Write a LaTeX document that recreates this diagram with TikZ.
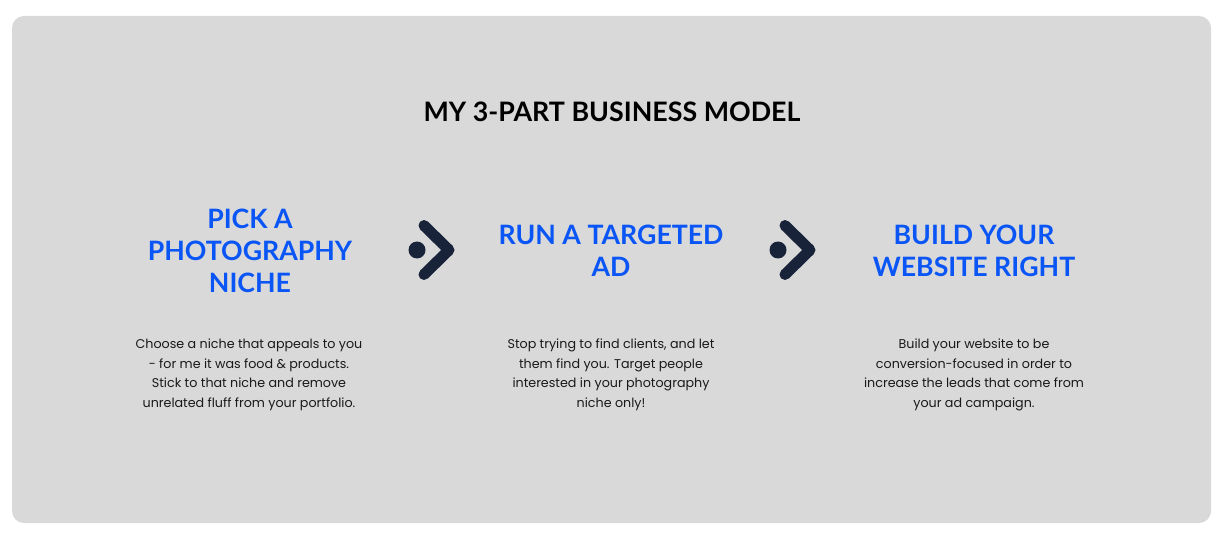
\documentclass[tikz,border=0pt]{standalone}
\usepackage{fontspec}
\setmainfont{Poppins}
\newfontfamily\headfont{Lato}
\usetikzlibrary{positioning}
\definecolor{panelgrey}{HTML}{D9D9D9}
\definecolor{nicheblue}{HTML}{0A55F5}
\definecolor{chevron}{HTML}{18233A}

\begin{document}
\begin{tikzpicture}[x=1pt, y=-1pt,
    titletext/.style={font=\headfont\bfseries\fontsize{26.8}{32}\selectfont, text=black, inner sep=0pt},
    steptitle/.style={font=\headfont\bfseries\fontsize{26.7}{32}\selectfont, text=nicheblue, align=center, inner sep=0pt},
    stepbody/.style={font=\fontsize{12.7}{19.5}\selectfont, text=black!90, align=center, inner sep=0pt},
    chev/.style={draw=chevron, line width=11pt, line cap=round, line join=round}
]
\useasboundingbox (0,0) rectangle (1229,548);
\fill[white] (0,0) rectangle (1229,548);
\fill[panelgrey, rounded corners=12pt] (12,16) rectangle (1211,523);

\node[titletext] (title) at (612,112) {MY 3-PART BUSINESS MODEL};

% the three steps
\node[steptitle] (pick) at (250,251) {PICK A\\PHOTOGRAPHY\\NICHE};
\node[steptitle] (run)  at (611,251) {RUN A TARGETED\\AD};
\node[steptitle] (site) at (974,251) {BUILD YOUR\\WEBSITE RIGHT};

\node[stepbody] (pickbody) at (249,375) {Choose a niche that appeals to you\\- for me it was food \& products.\\Stick to that niche and remove\\unrelated fluff from your portfolio.};
\node[stepbody] (runbody)  at (611,375) {Stop trying to find clients, and let\\them find you. Target people\\interested in your photography\\niche only!};
\node[stepbody] (sitebody) at (974,375) {Build your website to be\\conversion-focused in order to\\increase the leads that come from\\your ad campaign.};

% chevron icons between the steps
\coordinate (icon1) at (432,250);
\coordinate (icon2) at (793,250);
\foreach \c in {icon1,icon2}{
  \fill[chevron] ([xshift=-15pt]\c) circle (8.5pt);
  \draw[chev] ([xshift=-8pt,yshift=-24.5pt]\c) -- ([xshift=17pt]\c) -- ([xshift=-8pt,yshift=24.5pt]\c);
}
\end{tikzpicture}
\end{document}
